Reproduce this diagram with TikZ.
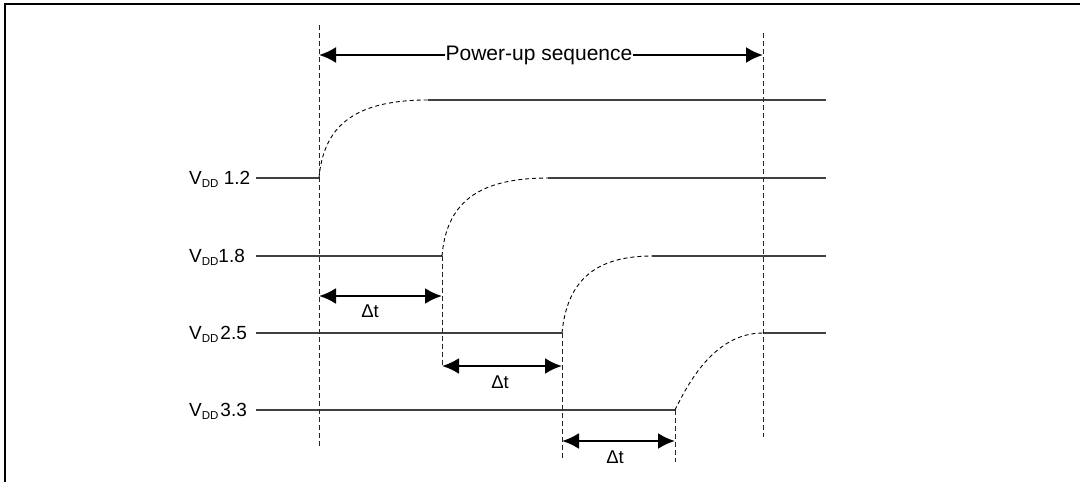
\documentclass[tikz,border=0pt]{standalone}
\usepackage{fontspec}
\setmainfont{Liberation Sans}
\usetikzlibrary{arrows.meta}
\begin{document}
\begin{tikzpicture}[x=1pt,y=-1pt,
  frame/.style={line width=2.2pt, black},
  sig/.style={line width=1.1pt, black!75},
  rise/.style={line width=0.9pt, black, dash pattern=on 4pt off 3pt},
  guide/.style={line width=0.9pt, black!85, dash pattern=on 5pt off 3pt},
  dimarrow/.style={line width=2.4pt, {Latex[length=17pt,width=16pt]}-{Latex[length=17pt,width=16pt]}},
  lbl/.style={anchor=base west, inner sep=0pt, font=\fontsize{19}{22}\selectfont},
  dtlbl/.style={inner sep=0pt, font=\fontsize{18.5}{22}\selectfont}]
\useasboundingbox (0,0) rectangle (1080,482);
\fill[white] (0,0) rectangle (1080,482);
% frame
\coordinate (fb) at (5,482); \coordinate (ftl) at (5,4); \coordinate (ftr) at (1080,4);
\draw[frame] (fb) -- (ftl) -- (ftr);

% signal points
\coordinate (a0) at (256,178); \coordinate (a1) at (319,178); \coordinate (a2) at (428,100); \coordinate (a3) at (826,100);
\coordinate (b0) at (256,256); \coordinate (b1) at (442,256); \coordinate (b2) at (548,178); \coordinate (b3) at (826,178);
\coordinate (c0) at (256,333); \coordinate (c1) at (562,333); \coordinate (c2) at (652,256); \coordinate (c3) at (826,256);
\coordinate (d0) at (256,410); \coordinate (d1) at (675,410); \coordinate (d2) at (763,333); \coordinate (d3) at (826,333);

% labels
\node[lbl] (la) at (189,184.5) {V\raisebox{-3pt}{\fontsize{11.5}{12}\selectfont DD} 1.2};
\node[lbl] (lb) at (189,262.5) {V\raisebox{-3pt}{\fontsize{11.5}{12}\selectfont DD}1.8};
\node[lbl] (lc) at (189,339.5) {V\raisebox{-3pt}{\fontsize{11.5}{12}\selectfont DD}\hspace{2pt}2.5};
\node[lbl] (ld) at (189,416.5) {V\raisebox{-3pt}{\fontsize{11.5}{12}\selectfont DD}\hspace{2pt}3.3};

% signals
\draw[sig] (a0) -- (a1);
\draw[rise] (a1) .. controls (323.5,128) and (351.7,100) .. (a2);
\draw[sig] (a2) -- (a3);

\draw[sig] (b0) -- (b1);
\draw[rise] (b1) .. controls (446.3,206) and (473.8,178) .. (b2);
\draw[sig] (b2) -- (b3);

\draw[sig] (c0) -- (c1);
\draw[rise] (c1) .. controls (566.5,286.8) and (589,256) .. (c2);
\draw[sig] (c2) -- (c3);

\draw[sig] (d0) -- (d1);
\draw[rise] (d1) .. controls (688.2,383) and (714.6,333) .. (d2);
\draw[sig] (d2) -- (d3);

% guides
\coordinate (g1t) at (319,25);  \coordinate (g1b) at (319,447);
\coordinate (g2b) at (442,366);
\coordinate (g3b) at (562,458);
\coordinate (g4b) at (675,462);
\coordinate (g5t) at (763,33);  \coordinate (g5b) at (763,437);
\draw[guide] (g1t) -- (g1b);
\draw[guide] (b1) -- (g2b);
\draw[guide] (c1) -- (g3b);
\draw[guide] (d1) -- (g4b);
\draw[guide] (g5t) -- (g5b);

% power-up sequence
\coordinate (pl) at (319,55); \coordinate (pr) at (763,55);
\node[inner sep=0pt, font=\fontsize{21}{25}\selectfont] (pu) at (539,55) {Power-up sequence};
\draw[line width=2.2pt, -{Latex[length=17pt,width=16pt]}] (pu.west) -- (pl);
\draw[line width=2.2pt, -{Latex[length=17pt,width=16pt]}] (pu.east) -- (pr);

% delta t
\coordinate (t1l) at (319,296); \coordinate (t1r) at (442,296);
\coordinate (t2l) at (442,366); \coordinate (t2r) at (562,366);
\coordinate (t3l) at (562,441); \coordinate (t3r) at (675,441);
\draw[dimarrow] (t1l) -- (t1r);
\draw[dimarrow] (t2l) -- (t2r);
\draw[dimarrow] (t3l) -- (t3r);
\node[dtlbl] (dt1) at (370,311) {Δt};
\node[dtlbl] (dt2) at (500,382) {Δt};
\node[dtlbl] (dt3) at (615,457) {Δt};
\end{tikzpicture}
\end{document}
